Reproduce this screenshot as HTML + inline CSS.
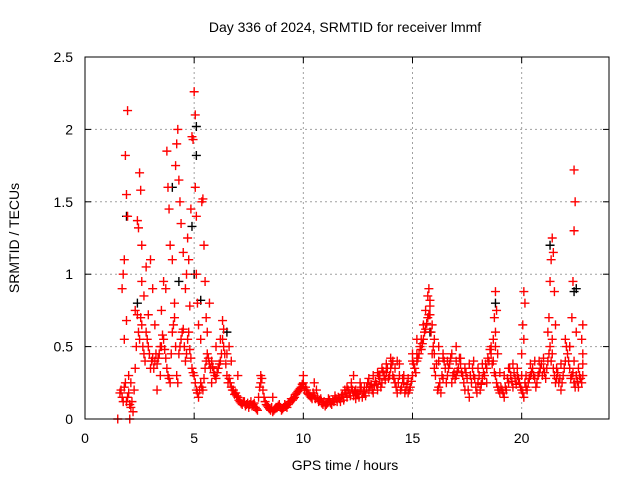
<!DOCTYPE html>
<html><head><meta charset="utf-8"><style>
body{margin:0;background:#fff}
svg{display:block;font-family:"Liberation Sans",sans-serif}
</style></head><body>
<svg id="chart" width="640" height="480">
<rect width="640" height="480" fill="#fff"/>
<text x="345" y="32" font-size="14" text-anchor="middle">Day 336 of 2024, SRMTID for receiver lmmf</text>
<text x="345" y="470" font-size="14" text-anchor="middle">GPS time / hours</text>
<text transform="translate(19,238) rotate(-90)" font-size="14" text-anchor="middle">SRMTID / TECUs</text>
<g id="grid"></g>
<g id="axes"></g>
<g id="marks"></g>
<rect x="85" y="57" width="524" height="362" fill="none" stroke="#000" stroke-width="1"/>
</svg>
<script>
const xTicks=[0,5,10,15,20];
const yTicks=[0,0.5,1,1.5,2,2.5];
const yTickLabels=["0","0.5","1","1.5","2","2.5"];
const mainT=[1.6,1.7,1.8,1.9,2.0,2.1,2.2,2.3,2.4,2.5,2.6,2.7,2.8,2.9,3.0,3.1,3.2,3.3,3.4,3.5,3.6,3.7,3.8,3.9,4.0,4.1,4.2,4.3,4.4,4.5,4.6,4.7,4.8,4.9,5.0,5.1,5.2,5.3,5.4,5.5,5.6,5.7,5.8,5.9,6.0,6.1,6.2,6.3,6.4,6.5,6.6,6.7,6.8,6.9,7.0,7.1,7.2,7.3,7.4,7.5,7.6,7.7,7.8,7.9,8.0,8.1,8.2,8.3,8.4,8.5,8.6,8.7,8.8,8.9,9.0,9.1,9.2,9.3,9.4,9.5,9.6,9.7,9.8,9.9,10.0,10.1,10.2,10.3,10.4,10.5,10.6,10.7,10.8,10.9,11.0,11.1,11.2,11.3,11.4,11.5,11.6,11.7,11.8,11.9,12.0,12.1,12.2,12.3,12.4,12.5,12.6,12.7,12.8,12.9,13.0,13.1,13.2,13.3,13.4,13.5,13.6,13.7,13.8,13.9,14.0,14.1,14.2,14.3,14.4,14.5,14.6,14.7,14.8,14.9,15.0,15.1,15.2,15.3,15.4,15.5,15.6,15.7,15.8,15.9,16.0,16.1,16.2,16.3,16.4,16.5,16.6,16.7,16.8,16.9,17.0,17.1,17.2,17.3,17.4,17.5,17.6,17.7,17.8,17.9,18.0,18.1,18.2,18.3,18.4,18.5,18.6,18.7,18.8,18.9,19.0,19.1,19.2,19.3,19.4,19.5,19.6,19.7,19.8,19.9,20.0,20.1,20.2,20.3,20.4,20.5,20.6,20.7,20.8,20.9,21.0,21.1,21.2,21.3,21.4,21.5,21.6,21.7,21.8,21.9,22.0,22.1,22.2,22.3,22.4,22.5,22.6,22.7,22.8];
const mainV=[0.18,0.15,0.22,0.12,0.18,0.08,0.05,0.35,0.72,0.55,0.65,0.45,0.6,0.5,0.35,0.42,0.4,0.38,0.45,0.5,0.55,0.42,0.3,0.25,0.6,0.7,0.3,0.45,0.55,0.62,0.4,0.55,0.48,0.35,0.3,0.2,0.15,0.25,0.2,0.35,0.45,0.38,0.4,0.32,0.28,0.35,0.4,0.55,0.45,0.3,0.28,0.22,0.2,0.18,0.15,0.12,0.1,0.12,0.1,0.08,0.12,0.1,0.08,0.06,0.22,0.28,0.15,0.1,0.08,0.06,0.05,0.07,0.08,0.1,0.06,0.08,0.09,0.1,0.12,0.13,0.15,0.18,0.2,0.22,0.25,0.22,0.18,0.16,0.14,0.16,0.2,0.12,0.14,0.1,0.09,0.11,0.13,0.1,0.12,0.14,0.15,0.12,0.17,0.2,0.15,0.18,0.22,0.16,0.14,0.18,0.2,0.15,0.18,0.22,0.2,0.24,0.18,0.26,0.2,0.28,0.25,0.3,0.32,0.28,0.35,0.3,0.25,0.18,0.3,0.22,0.25,0.2,0.18,0.22,0.3,0.35,0.4,0.45,0.48,0.55,0.62,0.7,0.78,0.65,0.35,0.38,0.22,0.18,0.28,0.35,0.3,0.38,0.25,0.32,0.4,0.35,0.38,0.3,0.2,0.28,0.15,0.25,0.3,0.22,0.25,0.2,0.28,0.3,0.35,0.4,0.45,0.4,0.3,0.22,0.18,0.2,0.15,0.2,0.25,0.3,0.22,0.28,0.3,0.25,0.2,0.15,0.22,0.25,0.3,0.35,0.28,0.25,0.32,0.38,0.35,0.28,0.4,0.5,0.45,0.3,0.28,0.25,0.2,0.3,0.4,0.45,0.35,0.3,0.25,0.3,0.22,0.28,0.3];
const midT=[1.65,1.75,1.85,1.95,2.05,2.15,2.25,2.35,2.45,2.55,2.65,2.75,2.85,2.95,3.05,3.15,3.25,3.35,3.45,3.55,3.65,3.75,3.85,3.95,4.05,4.15,4.25,4.35,4.45,4.55,4.65,4.75,4.85,4.95,5.05,5.15,5.25,5.35,5.45,5.55,5.65,5.75,5.85,5.95,6.05,6.15,6.25,6.35,6.45,6.55,6.65,6.75,6.85,6.95,7.05,7.15,7.25,7.35,7.45,7.55,7.65,7.75,7.85,7.95,8.05,8.15,8.25,8.35,8.45,8.55,8.65,8.75,8.85,8.95,9.05,9.15,9.25,9.35,9.45,9.55,9.65,9.75,9.85,9.95,10.05,10.15,10.25,10.35,10.45,10.55,10.65,10.75,10.85,10.95,11.05,11.15,11.25,11.35,11.45,11.55,11.65,11.75,11.85,11.95,12.05,12.15,12.25,12.35,12.45,12.55,12.65,12.75,12.85,12.95,13.05,13.15,13.25,13.35,13.45,13.55,13.65,13.75,13.85,13.95,14.05,14.15,14.25,14.35,14.45,14.55,14.65,14.75,14.85,14.95,15.05,15.15,15.25,15.35,15.45,15.55,15.65,15.75,15.85,15.95,16.05,16.15,16.25,16.35,16.45,16.55,16.65,16.75,16.85,16.95,17.05,17.15,17.25,17.35,17.45,17.55,17.65,17.75,17.85,17.95,18.05,18.15,18.25,18.35,18.45,18.55,18.65,18.75,18.85,18.95,19.05,19.15,19.25,19.35,19.45,19.55,19.65,19.75,19.85,19.95,20.05,20.15,20.25,20.35,20.45,20.55,20.65,20.75,20.85,20.95,21.05,21.15,21.25,21.35,21.45,21.55,21.65,21.75,21.85,21.95,22.05,22.15,22.25,22.35,22.45,22.55,22.65,22.75];
const midV=[0.2,0.12,0.25,0.15,0.1,0.12,0.2,0.5,0.6,0.7,0.5,0.4,0.55,0.45,0.4,0.35,0.45,0.42,0.5,0.58,0.48,0.35,0.28,0.45,0.65,0.5,0.25,0.5,0.6,0.5,0.45,0.6,0.42,0.32,0.25,0.18,0.2,0.22,0.28,0.4,0.42,0.35,0.36,0.3,0.32,0.38,0.45,0.5,0.38,0.25,0.25,0.2,0.17,0.16,0.13,0.11,0.12,0.09,0.11,0.1,0.09,0.11,0.07,0.15,0.25,0.2,0.12,0.09,0.07,0.08,0.06,0.08,0.09,0.08,0.07,0.1,0.08,0.11,0.14,0.14,0.17,0.19,0.21,0.24,0.2,0.2,0.17,0.15,0.18,0.14,0.15,0.13,0.11,0.12,0.1,0.14,0.11,0.13,0.16,0.12,0.14,0.16,0.13,0.18,0.2,0.16,0.2,0.19,0.17,0.15,0.22,0.19,0.16,0.25,0.22,0.2,0.23,0.24,0.3,0.22,0.33,0.27,0.35,0.3,0.38,0.28,0.22,0.25,0.2,0.28,0.18,0.24,0.2,0.26,0.38,0.32,0.42,0.5,0.52,0.6,0.66,0.72,0.6,0.5,0.3,0.2,0.25,0.3,0.4,0.25,0.35,0.42,0.3,0.28,0.33,0.42,0.32,0.25,0.32,0.2,0.3,0.35,0.28,0.18,0.3,0.24,0.32,0.38,0.42,0.48,0.38,0.32,0.25,0.2,0.22,0.18,0.22,0.28,0.35,0.26,0.32,0.24,0.28,0.22,0.18,0.25,0.2,0.28,0.32,0.3,0.22,0.3,0.35,0.3,0.32,0.35,0.45,0.4,0.35,0.25,0.32,0.28,0.25,0.35,0.5,0.4,0.28,0.32,0.22,0.26,0.3,0.25];
const upperT=[12.0,12.2,12.4,12.6,12.8,13.0,13.2,13.4,13.6,13.8,14.0,14.2,14.4,14.6,14.8,15.0,15.2,15.4,15.6,15.8,16.0,16.2,16.4,16.6,16.8,17.0,17.2,17.4,17.6,17.8,18.0,18.2,18.4,18.6,18.8,19.0,19.2,19.4,19.6,19.8,20.0,20.2,20.4,20.6,20.8,21.0,21.2,21.4,21.6,21.8,22.0,22.2,22.4,22.6,22.8];
const upperV=[0.22,0.25,0.2,0.25,0.22,0.28,0.3,0.32,0.35,0.38,0.42,0.35,0.38,0.3,0.28,0.4,0.45,0.55,0.75,0.82,0.45,0.4,0.42,0.4,0.45,0.3,0.42,0.35,0.38,0.4,0.35,0.38,0.25,0.5,0.5,0.32,0.3,0.35,0.38,0.35,0.3,0.3,0.38,0.4,0.4,0.42,0.6,0.55,0.35,0.38,0.55,0.5,0.4,0.35,0.38];
const extraT=[1.7,1.75,1.8,1.85,1.95,1.9,1.95,1.8,1.9,2.0,2.1,2.3,2.4,2.45,2.5,2.55,2.6,2.6,2.7,2.8,2.9,3.0,3.1,3.2,3.3,3.45,3.5,3.6,3.7,3.75,3.8,3.85,3.9,4.0,4.1,4.15,4.2,4.25,4.3,4.35,4.4,4.5,4.6,4.65,4.7,4.75,4.8,4.85,4.9,4.95,5.0,5.05,5.05,5.1,5.1,5.15,5.2,5.3,5.35,5.4,5.45,5.5,5.55,5.6,5.7,5.8,6.0,6.2,6.3,6.35,6.5,6.6,6.7,7.0,8.05,8.6,10.0,10.5,12.3,13.5,14.1,14.3,15.0,15.2,15.5,15.7,15.75,15.8,15.9,16.0,16.2,16.4,17.0,18.7,18.75,18.8,18.85,18.8,18.9,20.0,20.05,20.1,20.15,20.1,21.25,21.3,21.35,21.4,21.45,21.5,21.55,22.2,22.3,22.35,22.4,22.45,22.4,22.5,22.75,22.8,22.8,1.5,2.05];
const extraV=[0.9,1.0,1.1,1.82,2.13,1.55,1.4,0.55,0.68,0.3,0.25,0.75,1.37,1.32,1.7,1.58,1.2,0.95,0.85,1.05,0.72,1.1,0.9,0.65,0.2,0.3,0.75,0.95,0.9,1.85,1.6,1.45,1.2,1.1,0.8,1.75,1.9,2.0,1.65,1.5,1.35,1.15,0.9,1.0,1.25,1.1,0.78,1.45,1.95,1.93,2.26,2.1,1.6,1.4,1.0,0.8,0.65,0.55,1.5,1.52,1.2,0.95,0.7,0.6,0.8,0.25,0.5,0.55,0.68,0.62,0.45,0.5,0.4,0.3,0.3,0.15,0.3,0.25,0.3,0.3,0.4,0.4,0.45,0.55,0.65,0.85,0.9,0.72,0.45,0.55,0.5,0.45,0.5,0.55,0.7,0.88,0.75,0.6,0.45,0.45,0.65,0.88,0.8,0.55,0.7,0.95,1.1,1.25,1.15,0.88,0.65,0.5,0.7,0.95,1.3,1.5,1.72,0.6,0.55,0.65,0.45,0.0,0.0];
const blackT=[1.9,2.4,4.3,4.9,5.1,5.1,5.0,5.3,21.3,22.4,22.5,15.8,18.8,4.0,6.5];
const blackV=[1.4,0.8,0.95,1.33,2.02,1.82,1.0,0.82,1.2,0.88,0.9,0.6,0.8,1.6,0.6];

const X0=85,X1=609,Y0=419,Y1=57;
const xs=t=>X0+(t/24)*(X1-X0);
const ys=v=>Y0-(v/2.5)*(Y0-Y1);
const NS="http://www.w3.org/2000/svg";
const grid=document.getElementById('grid'),axes=document.getElementById('axes'),marks=document.getElementById('marks');
function mk(tag,attrs,parent){const e=document.createElementNS(NS,tag);for(const k in attrs)e.setAttribute(k,attrs[k]);parent.appendChild(e);return e;}
xTicks.forEach(t=>{
  const x=xs(t);
  if(t>0){const g=mk('line',{x1:x,x2:x,y1:Y1,y2:Y0,stroke:'#a0a0a0','stroke-dasharray':'2,3'},grid);
  
  }
  const a=mk('line',{x1:x,x2:x,y1:Y0,y2:Y0-6,stroke:'#000'},axes);
  
  
  const b=mk('line',{x1:x,x2:x,y1:Y1,y2:Y1+6,stroke:'#000'},axes);
  
  
  const l=mk('text',{x:x,y:443,'font-size':14,'text-anchor':'middle'},axes);
  l.textContent=String(t);
  
  
});
yTicks.forEach((v,i)=>{
  const y=ys(v);
  if(v>0&&v<2.5){const g=mk('line',{x1:X0,x2:X1,y1:y,y2:y,stroke:'#a0a0a0','stroke-dasharray':'2,3'},grid);
  
  }
  const a=mk('line',{x1:X0,x2:X0+6,y1:y,y2:y,stroke:'#000'},axes);
  
  
  const b=mk('line',{x1:X1,x2:X1-6,y1:y,y2:y,stroke:'#000'},axes);
  
  
  const l=mk('text',{x:X0-12,y:y+5,'font-size':14,'text-anchor':'end'},axes);
  l.textContent=yTickLabels[i];
  
  
});
function plus(t,v,color,name){
  const x=xs(t),y=ys(v);
  const p=mk('path',{d:`M${x-4.5},${y}H${x+4.5}M${x},${y-4.5}V${y+4.5}`,stroke:color,'stroke-width':1.4,fill:'none'},marks);
  
  
}
blackT.forEach((t,i)=>plus(t,blackV[i],'#000','black-point'));
mainT.forEach((t,i)=>plus(t,mainV[i],'#f00','srmtid-point'));
midT.forEach((t,i)=>plus(t,midV[i],'#f00','srmtid-point'));
upperT.forEach((t,i)=>plus(t,upperV[i],'#f00','srmtid-point'));
extraT.forEach((t,i)=>plus(t,extraV[i],'#f00','srmtid-point'));
</script>
</body></html>
